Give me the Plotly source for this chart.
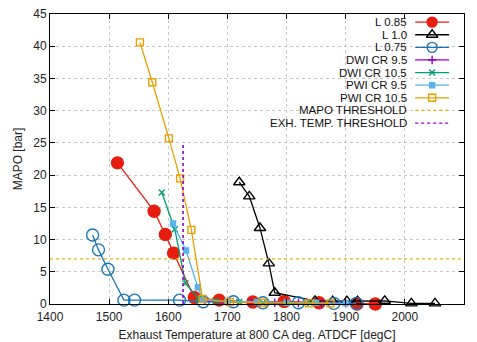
import plotly.graph_objects as go

# ---------------- data ----------------
l085_x = [1514, 1576, 1595, 1609, 1644, 1686, 1743, 1796, 1855, 1919, 1950]
l085_y = [21.9, 14.4, 10.8, 7.9, 1.0, 0.6, 0.3, 0.4, 0.2, 0.0, 0.0]

l10_x = [1720, 1737, 1755, 1770, 1780, 1848, 1878, 1902, 1920, 1966, 2011, 2051]
l10_y = [18.9, 16.7, 11.8, 6.3, 1.75, 0.5, 0.45, 0.45, 0.45, 0.5, 0.1, 0.1]

l075_x = [1472, 1482, 1498, 1525, 1543, 1619, 1659, 1710, 1760, 1820, 1880, 1918]
l075_y = [10.7, 8.4, 5.4, 0.6, 0.6, 0.6, 0.35, 0.35, 0.2, 0.2, 0.1, 0.1]

dwi95_x = [1662, 1700, 1740, 1780, 1820, 1860, 1900]
dwi95_y = [0.5, 0.3, 0.25, 0.2, 0.15, 0.1, 0.1]

dwi105_x = [1589, 1611, 1629, 1651, 1680, 1720, 1760, 1800, 1840]
dwi105_y = [17.3, 11.6, 3.2, 0.9, 0.5, 0.3, 0.2, 0.15, 0.1]

pwi95_x = [1608, 1630, 1650, 1659, 1700, 1750, 1800, 1850, 1900]
pwi95_y = [12.5, 8.3, 2.6, 0.6, 0.4, 0.3, 0.2, 0.2, 0.1]

pwi105_x = [1552, 1573, 1601, 1620, 1639, 1658, 1704, 1760, 1838, 1874]
pwi105_y = [40.6, 34.4, 25.7, 19.5, 11.5, 0.8, 0.3, 0.2, 0.1, 0.1]

mapo_threshold = 7.0
exh_threshold = 1625
exh_threshold_top = 25.0
x_range = [1400, 2100]
y_range = [0, 45]

x_ticks = [1400, 1500, 1600, 1700, 1800, 1900, 2000, 2100]
y_ticks = [0, 5, 10, 15, 20, 25, 30, 35, 40, 45]

names = ["L 0.85", "L 1.0", "L 0.75", "DWI CR 9.5", "DWI CR 10.5",
         "PWI CR 9.5", "PWI CR 10.5", "MAPO THRESHOLD", "EXH. TEMP. THRESHOLD"]
# --------------------------------------

RED = "#e51e10"
BLACK = "#000000"
BLUE = "#1a76b4"
PURPLE = "#9400d3"
GREEN = "#009e73"
LBLUE = "#56b4e9"
ORANGE = "#e69f00"
YEL = "#e8b400"

styles = [
    dict(color=RED, symbol="circle", size=12, lw=1.3),
    dict(color=BLACK, symbol="triangle-up-open", size=10, lw=1.3),
    dict(color=BLUE, symbol="circle-open", size=12, lw=1.3),
    dict(color=PURPLE, symbol="cross-thin-open", size=6, lw=1.3),
    dict(color=GREEN, symbol="x-thin-open", size=6, lw=1.3),
    dict(color=LBLUE, symbol="square", size=5, lw=1.3),
    dict(color=ORANGE, symbol="square-open", size=7, lw=1.3),
]
series = [(l085_x, l085_y), (l10_x, l10_y), (l075_x, l075_y), (dwi95_x, dwi95_y),
          (dwi105_x, dwi105_y), (pwi95_x, pwi95_y), (pwi105_x, pwi105_y)]

fig = go.Figure()
for (xs, ys), st, nm in zip(series, styles, names):
    fig.add_trace(go.Scatter(
        x=xs, y=ys, name=nm, mode="lines+markers", cliponaxis=False,
        line=dict(color=st["color"], width=st["lw"]),
        marker=dict(symbol=st["symbol"], size=st["size"], color=st["color"],
                    line=dict(color=st["color"], width=1.4)),
        showlegend=False))

fig.add_trace(go.Scatter(x=x_range, y=[mapo_threshold, mapo_threshold], mode="lines",
                         line=dict(color=YEL, width=1.4, dash="dot"), showlegend=False))
fig.add_trace(go.Scatter(x=[exh_threshold, exh_threshold], y=[0, exh_threshold_top], mode="lines",
                         line=dict(color=PURPLE, width=1.6, dash="dot"), showlegend=False))

# ---- custom gnuplot-style legend (text left, sample right) ----
y0 = 0.972
dy = 0.0435
tx = 0.865
lx0, lx1, mx = 0.882, 0.964, 0.923
leg_styles = styles + [dict(color=YEL, symbol=None, dash="dot"),
                       dict(color=PURPLE, symbol=None, dash="dot")]
for i, (nm, st) in enumerate(zip(names, leg_styles)):
    yy = y0 - i * dy
    fig.add_annotation(x=tx, y=yy, xref="paper", yref="paper", text=nm, showarrow=False,
                       xanchor="right", yanchor="middle", borderpad=0,
                       font=dict(size=11.5, color="#111", family="Liberation Sans, Arial"))
    fig.add_trace(go.Scatter(x=[lx0, lx1], y=[yy, yy], xaxis="x2", yaxis="y2", mode="lines",
                             line=dict(color=st["color"], width=1.3, dash=st.get("dash", "solid")),
                             showlegend=False, hoverinfo="skip", cliponaxis=False))
    if st["symbol"]:
        fig.add_trace(go.Scatter(x=[mx], y=[yy], xaxis="x2", yaxis="y2", mode="markers",
                                 marker=dict(symbol=st["symbol"], size=min(st["size"], 10),
                                             color=st["color"],
                                             line=dict(color=st["color"], width=1.4)),
                                 showlegend=False, hoverinfo="skip", cliponaxis=False))

axfont = dict(size=12, color="#222", family="Liberation Sans, Arial")
fig.update_layout(
    width=477, height=342,
    margin=dict(l=50, r=13, t=14, b=38, autoexpand=False),
    paper_bgcolor="white", plot_bgcolor="white",
    font=axfont,
    xaxis=dict(range=x_range, tickvals=x_ticks, showgrid=True, gridcolor="#c8c8c8",
               griddash="dot", gridwidth=1, zeroline=False, showline=True, linecolor="black",
               linewidth=1, mirror="ticks", ticks="inside", ticklen=5, tickcolor="black",
               automargin=False, ticklabelstandoff=2,
               title=dict(text="Exhaust Temperature at 800 CA deg. ATDCF [degC]", standoff=16,
                          font=axfont), tickfont=axfont),
    yaxis=dict(range=y_range, tickvals=y_ticks, showgrid=True, gridcolor="#c8c8c8",
               griddash="dot", gridwidth=1, zeroline=False, showline=True, linecolor="black",
               linewidth=1, mirror="ticks", ticks="inside", ticklen=5, tickcolor="black",
               automargin=False, ticklabelstandoff=0,
               title=dict(text="MAPO [bar]", standoff=8, font=axfont), tickfont=axfont),
    xaxis2=dict(range=[0, 1], overlaying="x", visible=False, fixedrange=True),
    yaxis2=dict(range=[0, 1], overlaying="y", visible=False, fixedrange=True),
)

fig.write_html("out.html")
